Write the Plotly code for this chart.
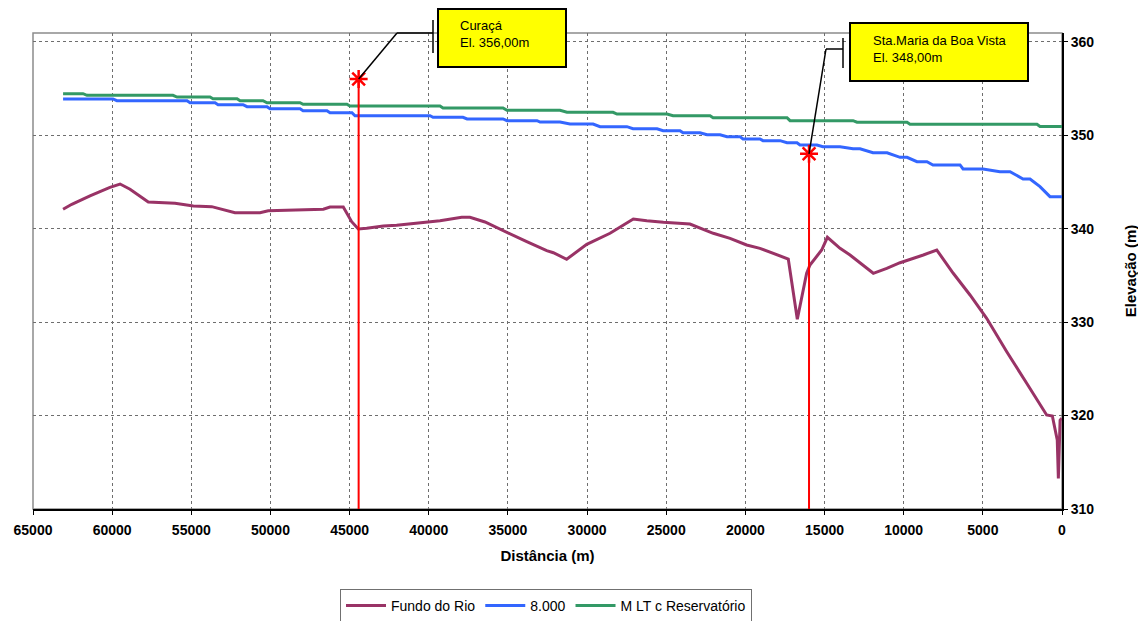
import plotly.graph_objects as go

# ---------------- data ----------------
fundo_dist = [63100, 62550, 61400, 60660, 60140, 59500, 58870, 57720, 56030, 54870,
              53710, 52240, 50660, 50140, 48340, 46660, 46240, 45400, 44870, 44450,
              43920, 42870, 42030, 39920, 39290, 37920, 37400, 36450, 34980, 33810,
              32550, 32130, 31290, 30020, 28550, 27080, 26230, 25180, 23500, 22870,
              22030, 20970, 19920, 19080, 18440, 17810, 17290, 16720, 16130, 15920,
              15180, 14820, 14020, 13390, 11920, 11070, 10230, 8760, 7910, 6870,
              5810, 4760, 3490, 2230, 970, 610, 300, 230, 120, 20]
fundo_elev = [342.07, 342.6, 343.5, 344.03, 344.42, 344.77, 344.21, 342.85, 342.71, 342.42,
              342.35, 341.7, 341.7, 341.92, 341.99, 342.07, 342.31, 342.31, 340.74, 339.96,
              340.03, 340.28, 340.36, 340.78, 340.85, 341.21, 341.21, 340.71, 339.5, 338.6,
              337.64, 337.42, 336.72, 338.32, 339.5, 341.03, 340.85, 340.68, 340.49, 340.03,
              339.5, 338.96, 338.25, 337.89, 337.47, 337.1, 336.75, 330.3, 335.22, 336.11,
              337.71, 339.07, 337.89, 337.18, 335.22, 335.75, 336.35, 337.18, 337.71, 335.22,
              332.9, 330.4, 326.83, 323.45, 320.06, 319.95, 317.38, 313.28, 319.5, 319.7]

q8000_dist = [63100, 59950, 59700, 55270, 55080, 53500, 53310, 51730, 51480, 50220,
              50030, 48130, 47940, 46430, 46240, 44850, 44660, 39920, 39730, 37840,
              37580, 35310, 35060, 33160, 32970, 31710, 31080, 29620, 29180, 27480,
              27100, 25580, 25200, 24130, 23940, 22870, 22420, 21600, 21160, 20340,
              20150, 19080, 18890, 17810, 17370, 16740, 16550, 15480, 15100, 14020,
              13200, 12760, 11940, 11050, 10230, 9790, 9160, 8530, 8150, 6440,
              6250, 4990, 3920, 3280, 2460, 2020, 1390, 760, 0]
q8000_elev = [353.87, 353.87, 353.69, 353.69, 353.47, 353.47, 353.26, 353.26, 353.05, 353.05,
              352.83, 352.83, 352.62, 352.62, 352.40, 352.40, 352.08, 352.08, 351.91, 351.91,
              351.73, 351.73, 351.55, 351.55, 351.40, 351.40, 351.19, 351.19, 350.91, 350.91,
              350.69, 350.69, 350.48, 350.48, 350.26, 350.26, 350.05, 350.05, 349.84, 349.84,
              349.59, 349.59, 349.41, 349.41, 349.19, 349.19, 348.95, 348.95, 348.77, 348.77,
              348.55, 348.55, 348.12, 348.12, 347.63, 347.63, 347.16, 347.16, 346.81, 346.81,
              346.38, 346.38, 346.09, 346.09, 345.31, 345.31, 344.49, 343.42, 343.42]

mlt_dist = [63100, 61840, 61590, 56160, 55900, 53820, 53630, 52110, 51920, 50470,
            50220, 48130, 47940, 45170, 44980, 39290, 39100, 35310, 35060, 31710,
            31270, 28360, 28110, 24950, 24570, 22230, 22040, 17370, 17180, 13200,
            12950, 9790, 9600, 1580, 1390, 0]
mlt_elev = [354.44, 354.44, 354.26, 354.26, 354.08, 354.08, 353.90, 353.90, 353.69, 353.69,
            353.47, 353.47, 353.30, 353.30, 353.12, 353.12, 352.91, 352.91, 352.66, 352.66,
            352.45, 352.45, 352.26, 352.26, 352.08, 352.08, 351.87, 351.87, 351.55, 351.55,
            351.38, 351.38, 351.16, 351.16, 350.93, 350.93]

station_names = ["Curaçá", "Sta.Maria da Boa Vista"]
station_labels = ["El. 356,00m", "El. 348,00m"]
station_dist = [44430, 15980]
station_elev = [356.0, 348.0]

x_ticks = list(range(65000, -1, -5000))
y_ticks = [310, 320, 330, 340, 350, 360]

X_MAX, X_MIN = 65000, 0
Y_MIN, Y_MAX = 310, 360.93

FONT = "Liberation Sans, Arial, sans-serif"

# page offset (browser body margin) and plot-area geometry in screenshot pixels
OFF = 8
PLOT_L, PLOT_R, PLOT_T, PLOT_B = 33, 1062, 33, 509
FIG_W, FIG_H = 1146 - OFF, 621 - OFF

fig = go.Figure()

fig.add_trace(go.Scatter(x=fundo_dist, y=fundo_elev, mode="lines", name="Fundo do Rio",
                         line=dict(color="#993366", width=3)))
fig.add_trace(go.Scatter(x=q8000_dist, y=q8000_elev, mode="lines", name="8.000",
                         line=dict(color="#3366FF", width=3)))
fig.add_trace(go.Scatter(x=mlt_dist, y=mlt_elev, mode="lines", name="M LT c Reservatório",
                         line=dict(color="#339966", width=3)))

# station vertical lines and markers
for d, e in zip(station_dist, station_elev):
    fig.add_trace(go.Scatter(x=[d, d], y=[e, Y_MIN], mode="lines", showlegend=False,
                             line=dict(color="#FF0000", width=2), hoverinfo="skip"))
fig.add_trace(go.Scatter(x=station_dist, y=station_elev, mode="markers", showlegend=False,
                         marker=dict(symbol="asterisk-open", size=15, color="#FF0000",
                                     line=dict(color="#FF0000", width=2.5)),
                         cliponaxis=False))


def px_to_paper_x(px):
    return (px - PLOT_L) / float(PLOT_R - PLOT_L)


def px_to_paper_y(py):
    return (PLOT_B - py) / float(PLOT_B - PLOT_T)


def data_to_paper_x(d):
    return (X_MAX - d) / (X_MAX - X_MIN)


def data_to_paper_y(v):
    return (v - Y_MIN) / (Y_MAX - Y_MIN)


shapes = []
# plot frame
shapes.append(dict(type="rect", xref="paper", yref="paper", x0=0, x1=1, y0=0, y1=1,
                   line=dict(color="#8c8c8c", width=1.5), layer="below"))

# callouts (layout positions in screenshot pixels)
callouts = [
    dict(elbow=(397, 33), bar_x=433, bar_y=(20, 53), box=(438, 566, 9, 67), text=(458, 34.5)),
    dict(elbow=(826, 49), bar_x=843, bar_y=(38, 68), box=(850, 1028, 23, 81), text=(871, 49.5)),
]
annotations = []
for i, c in enumerate(callouts):
    mx = data_to_paper_x(station_dist[i])
    my = data_to_paper_y(station_elev[i])
    ex, ey = px_to_paper_x(c["elbow"][0]), px_to_paper_y(c["elbow"][1])
    bx = px_to_paper_x(c["bar_x"])
    shapes.append(dict(type="line", xref="paper", yref="paper", x0=mx, y0=my, x1=ex, y1=ey,
                       line=dict(color="black", width=1.5)))
    shapes.append(dict(type="line", xref="paper", yref="paper", x0=ex, y0=ey, x1=bx, y1=ey,
                       line=dict(color="black", width=1.5)))
    shapes.append(dict(type="line", xref="paper", yref="paper", x0=bx, x1=bx,
                       y0=px_to_paper_y(c["bar_y"][0]), y1=px_to_paper_y(c["bar_y"][1]),
                       line=dict(color="black", width=1.5)))
    b = c["box"]
    shapes.append(dict(type="rect", xref="paper", yref="paper",
                       x0=px_to_paper_x(b[0]), x1=px_to_paper_x(b[1]),
                       y0=px_to_paper_y(b[3]), y1=px_to_paper_y(b[2]),
                       fillcolor="#FFFF00", line=dict(color="black", width=2), layer="above"))
    annotations.append(dict(xref="paper", yref="paper",
                            x=px_to_paper_x(c["text"][0]), y=px_to_paper_y(c["text"][1]),
                            xanchor="left", yanchor="middle", align="left", showarrow=False,
                            text=station_names[i] + "<br>" + station_labels[i],
                            font=dict(family=FONT, size=13, color="black")))

fig.update_layout(
    width=FIG_W, height=FIG_H,
    margin=dict(l=PLOT_L - OFF, r=FIG_W - (PLOT_R - OFF), t=PLOT_T - OFF,
                b=FIG_H - (PLOT_B - OFF), autoexpand=False),
    paper_bgcolor="white", plot_bgcolor="white",
    font=dict(family=FONT, color="black"),
    shapes=shapes,
    annotations=annotations,
    showlegend=True,
    legend=dict(orientation="h", xref="container", yref="container",
                x=(546 - OFF) / FIG_W, xanchor="center", y=(FIG_H - (589 - OFF)) / FIG_H,
                yanchor="top",
                bordercolor="#707070", borderwidth=1, bgcolor="white",
                font=dict(family=FONT, size=14, color="black"),
                itemwidth=40, tracegroupgap=0),
    xaxis=dict(
        range=[X_MAX, X_MIN], tickmode="array", tickvals=x_ticks,
        ticktext=[str(t) for t in x_ticks], automargin=False,
        showgrid=True, gridcolor="#6e6e6e", gridwidth=1, griddash="dot",
        showline=True, linecolor="black", linewidth=2,
        ticks="outside", ticklen=4, tickcolor="black", tickwidth=1,
        ticklabelstandoff=3,
        tickfont=dict(family=FONT, size=14, color="black", weight="bold"),
        title=dict(text="Distância (m)", standoff=14,
                   font=dict(family=FONT, size=15, color="black", weight="bold")),
        zeroline=False,
    ),
    yaxis=dict(
        range=[Y_MIN, Y_MAX], side="right", tickmode="array", tickvals=y_ticks,
        ticktext=[str(t) for t in y_ticks], automargin=False,
        showgrid=True, gridcolor="#6e6e6e", gridwidth=1, griddash="dot",
        showline=True, linecolor="black", linewidth=2,
        ticks="outside", ticklen=4, tickcolor="black", tickwidth=1,
        tickfont=dict(family=FONT, size=14, color="black", weight="bold"),
        title=dict(text="Elevação (m)", standoff=32,
                   font=dict(family=FONT, size=15, color="black", weight="bold")),
        zeroline=False,
    ),
)

fig.write_html("out.html")
